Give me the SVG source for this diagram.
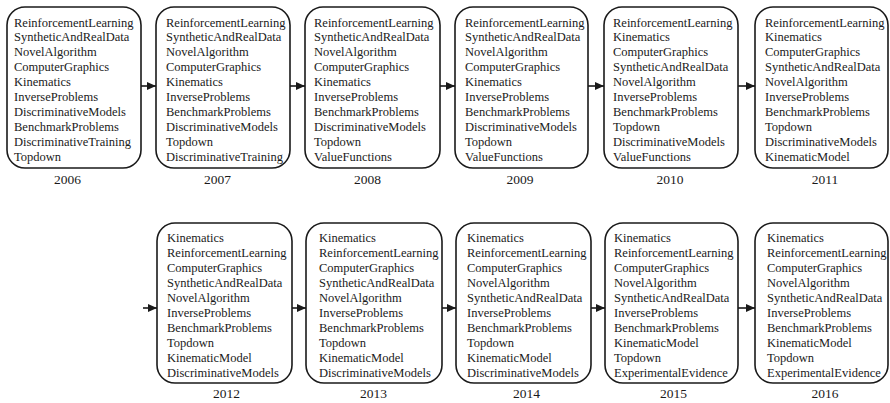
<svg xmlns="http://www.w3.org/2000/svg" width="890" height="403" viewBox="0 0 890 403">
<style>
.box{fill:#fff;stroke:#1a1a1a;stroke-width:1.6}
.t{font-family:"Liberation Serif","Times New Roman",serif;font-size:12.5px;fill:#1a1a1a}
.y{font-family:"Liberation Serif","Times New Roman",serif;font-size:13.5px;fill:#1a1a1a;text-anchor:middle}
.c{stroke:#1a1a1a;stroke-width:1.6;fill:none;marker-end:url(#ah)}
</style>
<defs>
<marker id="ah" markerUnits="userSpaceOnUse" markerWidth="9" markerHeight="8" refX="9" refY="4" orient="auto">
<path d="M0,0 L9,4 L0,8 Z" fill="#1a1a1a"/>
</marker>
</defs>
<rect width="890" height="403" fill="#fff"/>
<g id="connectors">
<line class="c" x1="141" y1="86" x2="156" y2="86"/>
<line class="c" x1="290" y1="86" x2="305" y2="86"/>
<line class="c" x1="440" y1="86" x2="455" y2="86"/>
<line class="c" x1="588" y1="86" x2="604" y2="86"/>
<line class="c" x1="738" y1="86" x2="755" y2="86"/>
<line class="c" x1="143" y1="308" x2="157" y2="308"/>
<line class="c" x1="292" y1="308" x2="306" y2="308"/>
<line class="c" x1="442" y1="308" x2="456" y2="308"/>
<line class="c" x1="591" y1="308" x2="605" y2="308"/>
<line class="c" x1="738" y1="308" x2="755" y2="308"/>
</g>
<g id="n2006">
<rect class="box" x="7" y="7" width="134" height="161" rx="18"/>
<text class="t" x="14"><tspan x="14" y="26.5">ReinforcementLearning</tspan><tspan x="14" y="41.4">SyntheticAndRealData</tspan><tspan x="14" y="56.3">NovelAlgorithm</tspan><tspan x="14" y="71.2">ComputerGraphics</tspan><tspan x="14" y="86.1">Kinematics</tspan><tspan x="14" y="101">InverseProblems</tspan><tspan x="14" y="115.9">DiscriminativeModels</tspan><tspan x="14" y="130.8">BenchmarkProblems</tspan><tspan x="14" y="145.7">DiscriminativeTraining</tspan><tspan x="14" y="160.6">Topdown</tspan></text>
<text class="y" x="67.5" y="184">2006</text>
</g>
<g id="n2007">
<rect class="box" x="156" y="7" width="134" height="161" rx="18"/>
<text class="t"><tspan x="166" y="26.5">ReinforcementLearning</tspan><tspan x="166" y="41.4">SyntheticAndRealData</tspan><tspan x="166" y="56.3">NovelAlgorithm</tspan><tspan x="166" y="71.2">ComputerGraphics</tspan><tspan x="166" y="86.1">Kinematics</tspan><tspan x="166" y="101">InverseProblems</tspan><tspan x="166" y="115.9">BenchmarkProblems</tspan><tspan x="166" y="130.8">DiscriminativeModels</tspan><tspan x="166" y="145.7">Topdown</tspan><tspan x="166" y="160.6">DiscriminativeTraining</tspan></text>
<text class="y" x="217.5" y="184">2007</text>
</g>
<g id="n2008">
<rect class="box" x="305" y="7" width="135" height="161" rx="18"/>
<text class="t"><tspan x="314" y="26.5">ReinforcementLearning</tspan><tspan x="314" y="41.4">SyntheticAndRealData</tspan><tspan x="314" y="56.3">NovelAlgorithm</tspan><tspan x="314" y="71.2">ComputerGraphics</tspan><tspan x="314" y="86.1">Kinematics</tspan><tspan x="314" y="101">InverseProblems</tspan><tspan x="314" y="115.9">BenchmarkProblems</tspan><tspan x="314" y="130.8">DiscriminativeModels</tspan><tspan x="314" y="145.7">Topdown</tspan><tspan x="314" y="160.6">ValueFunctions</tspan></text>
<text class="y" x="367.5" y="184">2008</text>
</g>
<g id="n2009">
<rect class="box" x="455" y="7" width="133" height="161" rx="18"/>
<text class="t"><tspan x="465" y="26.5">ReinforcementLearning</tspan><tspan x="465" y="41.4">SyntheticAndRealData</tspan><tspan x="465" y="56.3">NovelAlgorithm</tspan><tspan x="465" y="71.2">ComputerGraphics</tspan><tspan x="465" y="86.1">Kinematics</tspan><tspan x="465" y="101">InverseProblems</tspan><tspan x="465" y="115.9">BenchmarkProblems</tspan><tspan x="465" y="130.8">DiscriminativeModels</tspan><tspan x="465" y="145.7">Topdown</tspan><tspan x="465" y="160.6">ValueFunctions</tspan></text>
<text class="y" x="520" y="184">2009</text>
</g>
<g id="n2010">
<rect class="box" x="604" y="7" width="134" height="161" rx="18"/>
<text class="t"><tspan x="613" y="26.5">ReinforcementLearning</tspan><tspan x="613" y="41.4">Kinematics</tspan><tspan x="613" y="56.3">ComputerGraphics</tspan><tspan x="613" y="71.2">SyntheticAndRealData</tspan><tspan x="613" y="86.1">NovelAlgorithm</tspan><tspan x="613" y="101">InverseProblems</tspan><tspan x="613" y="115.9">BenchmarkProblems</tspan><tspan x="613" y="130.8">Topdown</tspan><tspan x="613" y="145.7">DiscriminativeModels</tspan><tspan x="613" y="160.6">ValueFunctions</tspan></text>
<text class="y" x="670" y="184">2010</text>
</g>
<g id="n2011">
<rect class="box" x="755" y="7" width="133" height="161" rx="18"/>
<text class="t"><tspan x="765" y="26.5">ReinforcementLearning</tspan><tspan x="765" y="41.4">Kinematics</tspan><tspan x="765" y="56.3">ComputerGraphics</tspan><tspan x="765" y="71.2">SyntheticAndRealData</tspan><tspan x="765" y="86.1">NovelAlgorithm</tspan><tspan x="765" y="101">InverseProblems</tspan><tspan x="765" y="115.9">BenchmarkProblems</tspan><tspan x="765" y="130.8">Topdown</tspan><tspan x="765" y="145.7">DiscriminativeModels</tspan><tspan x="765" y="160.6">KinematicModel</tspan></text>
<text class="y" x="825" y="184">2011</text>
</g>
<g id="n2012">
<rect class="box" x="157" y="223" width="135" height="160" rx="18"/>
<text class="t"><tspan x="167" y="241.5">Kinematics</tspan><tspan x="167" y="256.5">ReinforcementLearning</tspan><tspan x="167" y="271.5">ComputerGraphics</tspan><tspan x="167" y="286.5">SyntheticAndRealData</tspan><tspan x="167" y="301.5">NovelAlgorithm</tspan><tspan x="167" y="316.5">InverseProblems</tspan><tspan x="167" y="331.5">BenchmarkProblems</tspan><tspan x="167" y="346.5">Topdown</tspan><tspan x="167" y="361.5">KinematicModel</tspan><tspan x="167" y="376.5">DiscriminativeModels</tspan></text>
<text class="y" x="226.5" y="398">2012</text>
</g>
<g id="n2013">
<rect class="box" x="306" y="223" width="136" height="160" rx="18"/>
<text class="t"><tspan x="319" y="241.5">Kinematics</tspan><tspan x="319" y="256.5">ReinforcementLearning</tspan><tspan x="319" y="271.5">ComputerGraphics</tspan><tspan x="319" y="286.5">SyntheticAndRealData</tspan><tspan x="319" y="301.5">NovelAlgorithm</tspan><tspan x="319" y="316.5">InverseProblems</tspan><tspan x="319" y="331.5">BenchmarkProblems</tspan><tspan x="319" y="346.5">Topdown</tspan><tspan x="319" y="361.5">KinematicModel</tspan><tspan x="319" y="376.5">DiscriminativeModels</tspan></text>
<text class="y" x="373.5" y="398">2013</text>
</g>
<g id="n2014">
<rect class="box" x="456" y="223" width="135" height="160" rx="18"/>
<text class="t"><tspan x="467" y="241.5">Kinematics</tspan><tspan x="467" y="256.5">ReinforcementLearning</tspan><tspan x="467" y="271.5">ComputerGraphics</tspan><tspan x="467" y="286.5">NovelAlgorithm</tspan><tspan x="467" y="301.5">SyntheticAndRealData</tspan><tspan x="467" y="316.5">InverseProblems</tspan><tspan x="467" y="331.5">BenchmarkProblems</tspan><tspan x="467" y="346.5">Topdown</tspan><tspan x="467" y="361.5">KinematicModel</tspan><tspan x="467" y="376.5">DiscriminativeModels</tspan></text>
<text class="y" x="526.5" y="398">2014</text>
</g>
<g id="n2015">
<rect class="box" x="605" y="223" width="133" height="160" rx="18"/>
<text class="t"><tspan x="614" y="241.5">Kinematics</tspan><tspan x="614" y="256.5">ReinforcementLearning</tspan><tspan x="614" y="271.5">ComputerGraphics</tspan><tspan x="614" y="286.5">NovelAlgorithm</tspan><tspan x="614" y="301.5">SyntheticAndRealData</tspan><tspan x="614" y="316.5">InverseProblems</tspan><tspan x="614" y="331.5">BenchmarkProblems</tspan><tspan x="614" y="346.5">KinematicModel</tspan><tspan x="614" y="361.5">Topdown</tspan><tspan x="614" y="376.5">ExperimentalEvidence</tspan></text>
<text class="y" x="673.5" y="398">2015</text>
</g>
<g id="n2016">
<rect class="box" x="755" y="223" width="133" height="160" rx="18"/>
<text class="t"><tspan x="767" y="241.5">Kinematics</tspan><tspan x="767" y="256.5">ReinforcementLearning</tspan><tspan x="767" y="271.5">ComputerGraphics</tspan><tspan x="767" y="286.5">NovelAlgorithm</tspan><tspan x="767" y="301.5">SyntheticAndRealData</tspan><tspan x="767" y="316.5">InverseProblems</tspan><tspan x="767" y="331.5">BenchmarkProblems</tspan><tspan x="767" y="346.5">KinematicModel</tspan><tspan x="767" y="361.5">Topdown</tspan><tspan x="767" y="376.5">ExperimentalEvidence</tspan></text>
<text class="y" x="825" y="398">2016</text>
</g>
</svg>
